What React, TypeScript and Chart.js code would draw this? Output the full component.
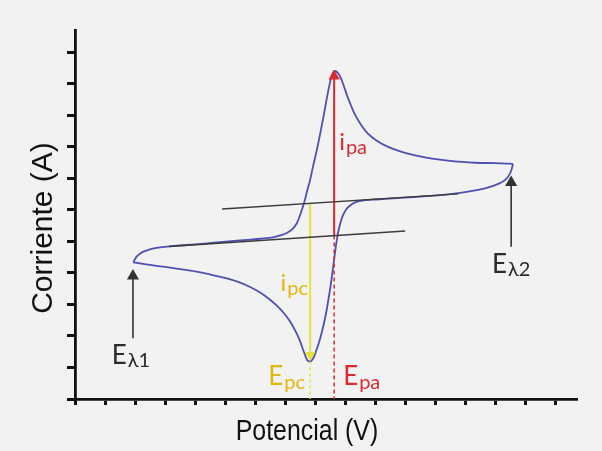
import React, { useEffect, useRef } from "react";
import { Chart, registerables } from "chart.js";

Chart.register(...registerables);

// ---- Data (arbitrary units: x = potential, y = current) ----
// Forward (anodic) sweep from Eλ1 to Eλ2
const forwardX = [1.943, 2.0, 2.067, 2.167, 2.3, 2.467, 2.667, 2.9, 3.167, 3.5, 4.0, 4.733, 5.5, 6.167, 6.6, 6.833, 7.057, 7.233, 7.39, 7.483, 7.557, 7.61, 7.667, 7.733, 7.833, 7.933, 8.057, 8.167, 8.277, 8.367, 8.443, 8.517, 8.583, 8.633, 8.7, 8.783, 8.867, 8.967, 9.067, 9.2, 9.333, 9.533, 9.767, 10.067, 10.433, 10.833, 11.333, 11.9, 12.567, 13.333, 14.0, 14.59];
const forwardY = [4.34, 4.444, 4.533, 4.61, 4.683, 4.743, 4.787, 4.822, 4.848, 4.873, 4.905, 4.968, 5.032, 5.086, 5.127, 5.19, 5.27, 5.381, 5.578, 5.794, 6.0, 6.159, 6.349, 6.603, 6.952, 7.397, 7.905, 8.413, 8.952, 9.429, 9.81, 10.127, 10.333, 10.413, 10.397, 10.317, 10.159, 9.905, 9.619, 9.302, 9.016, 8.698, 8.413, 8.19, 8.0, 7.857, 7.73, 7.625, 7.546, 7.498, 7.483, 7.46];
// Reverse (cathodic) sweep from Eλ2 back to Eλ1
const reverseX = [14.59, 14.55, 14.467, 14.333, 14.1, 13.767, 13.333, 12.833, 12.167, 11.5, 10.833, 10.333, 9.9, 9.567, 9.333, 9.167, 9.033, 8.933, 8.85, 8.783, 8.733, 8.683, 8.64, 8.6, 8.557, 8.51, 8.45, 8.39, 8.317, 8.233, 8.133, 8.033, 7.933, 7.833, 7.733, 7.65, 7.567, 7.467, 7.333, 7.167, 6.967, 6.733, 6.467, 6.167, 5.833, 5.433, 5.0, 4.5, 4.0, 3.5, 3.0, 2.5, 2.167, 1.943];
const reverseY = [7.46, 7.302, 7.111, 6.952, 6.825, 6.714, 6.619, 6.54, 6.467, 6.425, 6.381, 6.349, 6.324, 6.298, 6.238, 6.143, 6.016, 5.841, 5.619, 5.365, 5.111, 4.794, 4.476, 4.19, 3.873, 3.556, 3.206, 2.857, 2.508, 2.159, 1.81, 1.524, 1.286, 1.19, 1.238, 1.429, 1.651, 1.905, 2.175, 2.46, 2.714, 2.952, 3.175, 3.381, 3.556, 3.714, 3.841, 3.952, 4.048, 4.121, 4.19, 4.254, 4.302, 4.34];

// Extrapolated baselines
const upperBaselineX = [4.9, 12.77];
const upperBaselineY = [6.03, 6.51];
const lowerBaselineX = [3.13, 11.0];
const lowerBaselineY = [4.84, 5.33];

// Peaks: [cathodic, anodic]
const peakPotentials = [7.833, 8.633];
const peakCurrents = [1.19, 10.413];
// Baseline currents at the peak potentials (where i_pc / i_pa are measured from)
const peakBaseCurrents = [6.21, 5.19];
const cathodicArrowTip = 1.4;
const anodicArrowTip = 10.24;

// Switching potentials Eλ1, Eλ2 and their marker arrows
const switchPotentials = [1.93, 14.53];
const switchArrowFrom = [1.93, 4.83];
const switchArrowTo = [3.9, 6.87];

// Axis ranges and ticks
const xMax = 16.69;
const yMax = 11.71;
const tickStep = 1;

const pts = (xs: number[], ys: number[]) => xs.map((x, i) => ({ x, y: ys[i] }));

const CURVE = "#4f4fb4";
const RED = "#dc2b30";
const YELLOW_LINE = "#e4e43a";
const GOLD = "#e3b60c";
const BLACK = "#2a2a2a";
const LABEL_FONT = `Lato, "Open Sans", sans-serif`;

const labelPlugin = {
  id: "cvLabels",
  afterDatasetsDraw(chart: any) {
    const { ctx, scales, chartArea } = chart;
    const xs = scales.x;
    const ys = scales.y;
    const px = (v: number) => xs.getPixelForValue(v);
    const py = (v: number) => ys.getPixelForValue(v);

    const sub = (
      x: number,
      y: number,
      main: string,
      subText: string,
      color: string,
      mainSize: number,
      subSize: number,
      align: "left" | "center" | "right",
      drop: number
    ) => {
      ctx.save();
      ctx.textBaseline = "alphabetic";
      ctx.textAlign = "left";
      ctx.font = `${mainSize}px ${LABEL_FONT}`;
      const w1 = ctx.measureText(main).width;
      ctx.font = `${subSize}px ${LABEL_FONT}`;
      const w2 = ctx.measureText(subText).width;
      const total = w1 + w2 + 1;
      const x0 = align === "center" ? x - total / 2 : align === "right" ? x - total : x;
      ctx.fillStyle = color;
      ctx.font = `${mainSize}px ${LABEL_FONT}`;
      ctx.fillText(main, x0, y);
      ctx.font = `${subSize}px ${LABEL_FONT}`;
      ctx.fillText(subText, x0 + w1 + 1, y + drop);
      ctx.restore();
    };

    // Switching potentials
    sub(px(switchPotentials[0]) - 2, py(switchArrowFrom[0]) + 26, "E", "λ1", BLACK, 26, 20, "center", 3);
    sub(px(switchPotentials[1]), py(switchArrowFrom[1]) + 26, "E", "λ2", BLACK, 26, 20, "center", 3);
    // Peak currents
    sub(px(peakPotentials[1]) + 5, py(peakCurrents[1]) + 79, "i", "pa", RED, 24, 20, "left", 4);
    sub(px(peakPotentials[0]) - 2, py(peakCurrents[0]) - 71, "i", "pc", GOLD, 24, 20, "right", 4);
    // Peak potentials
    sub(px(peakPotentials[0]) - 5, chartArea.bottom - 14, "E", "pc", GOLD, 26, 20, "right", 4);
    sub(px(peakPotentials[1]) + 9, chartArea.bottom - 14, "E", "pa", RED, 26, 20, "left", 4);

    // Axis titles
    ctx.save();
    ctx.fillStyle = "#111";
    ctx.textAlign = "center";
    ctx.textBaseline = "middle";
    ctx.font = `30px "Liberation Sans", Arial, sans-serif`;
    ctx.save();
    ctx.translate(307, 432);
    ctx.scale(0.83, 1);
    ctx.fillText("Potencial (V)", 0, 0);
    ctx.restore();
    ctx.translate(44, 228);
    ctx.rotate(-Math.PI / 2);
    ctx.fillText("Corriente (A)", 0, 0);
    ctx.restore();
  },
};

export default function App() {
  const ref = useRef<HTMLCanvasElement | null>(null);

  useEffect(() => {
    if (!ref.current) return;
    const line = (data: any[], color: string, width: number, extra: any = {}) => ({
      type: "line",
      data,
      borderColor: color,
      backgroundColor: color,
      borderWidth: width,
      pointRadius: 0,
      fill: false,
      tension: 0,
      ...extra,
    });

    const arrow = (x: number, from: number, to: number, color: string, width: number, size: number, down = false) =>
      line(
        [
          { x, y: from },
          { x, y: to },
        ],
        color,
        width,
        {
          pointRadius: [0, size],
          pointStyle: "triangle",
          rotation: down ? 180 : 0,
          pointBorderWidth: 0,
        }
      );

    const chart = new Chart(ref.current, {
      type: "scatter",
      data: {
        datasets: [
          line(pts(upperBaselineX, upperBaselineY), "#3c3c3c", 1.4),
          line(pts(lowerBaselineX, lowerBaselineY), "#3c3c3c", 1.4),
          // i_pc arrow (yellow) and dashed drop to E_pc
          arrow(peakPotentials[0], peakBaseCurrents[0], cathodicArrowTip, YELLOW_LINE, 2, 6, true),
          line(
            [
              { x: peakPotentials[0], y: peakCurrents[0] },
              { x: peakPotentials[0], y: 0 },
            ],
            YELLOW_LINE,
            1.5,
            { borderDash: [3, 3] }
          ),
          // i_pa arrow (red) and dashed drop to E_pa
          arrow(peakPotentials[1], peakBaseCurrents[1], anodicArrowTip, RED, 2, 6.5),
          line(
            [
              { x: peakPotentials[1], y: peakBaseCurrents[1] },
              { x: peakPotentials[1], y: 0 },
            ],
            RED,
            1.5,
            { borderDash: [4, 3] }
          ),
          // CV curve
          line(pts(forwardX, forwardY), CURVE, 1.8, { cubicInterpolationMode: "monotone" }),
          line(pts(reverseX, reverseY), CURVE, 1.8, { cubicInterpolationMode: "monotone" }),
          // switching potential arrows
          arrow(switchPotentials[0], switchArrowFrom[0], switchArrowTo[0], "#333", 1.6, 7),
          arrow(switchPotentials[1], switchArrowFrom[1], switchArrowTo[1], "#333", 1.6, 7),
        ] as any,
      },
      options: {
        animation: false,
        responsive: false,
        layout: { padding: { top: 30, right: 26, left: 0, bottom: 0 } },
        plugins: {
          legend: { display: false },
          tooltip: { enabled: false },
        },
        scales: {
          x: {
            type: "linear",
            min: 0,
            max: xMax,
            border: { display: true, color: "#111", width: 2.8 },
            grid: { drawOnChartArea: false, drawTicks: true, tickLength: 6, color: "#111", lineWidth: 3 },
            ticks: { display: false, stepSize: tickStep, includeBounds: false, autoSkip: false },
            afterFit: (s: any) => {
              s.height = 52;
            },
          },
          y: {
            type: "linear",
            min: 0,
            max: yMax,
            border: { display: true, color: "#111", width: 2.8 },
            grid: { drawOnChartArea: false, drawTicks: true, tickLength: 8, color: "#111", lineWidth: 3 },
            ticks: { display: false, stepSize: tickStep, includeBounds: false, autoSkip: false },
            afterFit: (s: any) => {
              s.width = 75;
            },
          },
        },
      } as any,
      plugins: [labelPlugin],
    });
    return () => chart.destroy();
  }, []);

  return (
    <div
      style={{
        position: "absolute",
        left: 0,
        top: 0,
        width: 602,
        height: 451,
        background: "#f2f2f2",
      }}
    >
      <canvas ref={ref} width={602} height={451} />
    </div>
  );
}
